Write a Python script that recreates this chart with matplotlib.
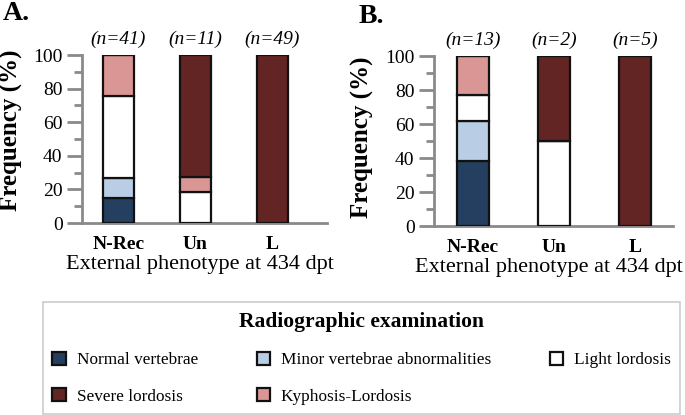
import numpy as np
import matplotlib
matplotlib.use("Agg")
from matplotlib import pyplot as plt
from matplotlib.patches import Patch

plt.rcParams['font.family'] = ['Liberation Serif', 'DejaVu Serif']

#!------------------------------------------------------------------------------
#!                                   DATA
#!------------------------------------------------------------------------------
phenotypes = ["N-Rec", "Un", "L"]
categories = ["Normal vertebrae", "Minor vertebrae abnormalities",
              "Light lordosis", "Kyphosis-Lordosis", "Severe lordosis"]
colors = ["#243F60", "#B9CDE5", "#FFFFFF", "#D99694", "#632523"]

# percentages, one list per category, ordered as phenotypes
panel_a = {
    "Normal vertebrae": [14.6, 0, 0],
    "Minor vertebrae abnormalities": [12.2, 0, 0],
    "Light lordosis": [48.8, 18.2, 0],
    "Kyphosis-Lordosis": [24.4, 9.1, 0],
    "Severe lordosis": [0, 72.7, 100],
}
panel_b = {
    "Normal vertebrae": [38.5, 0, 0],
    "Minor vertebrae abnormalities": [23.1, 0, 0],
    "Light lordosis": [15.4, 50, 0],
    "Kyphosis-Lordosis": [23.1, 0, 0],
    "Severe lordosis": [0, 50, 100],
}
n_a = [41, 11, 49]
n_b = [13, 2, 5]

W, H = 685, 415
GREY = "#8A8A8A"


def px_axes(fig, left, top, right, bottom):
    return fig.add_axes([left / W, 1 - bottom / H, (right - left) / W,
                         (bottom - top) / H])


def draw_panel(ax, data, counts, letter, xlim, ylab_xy, xlab_x, letter_xy):
    x = np.arange(len(phenotypes))
    base = np.zeros(len(phenotypes))
    for cat, col in zip(categories, colors):
        vals = np.array(data[cat], dtype=float)
        ax.bar(x, vals, 0.4, bottom=base, color=col, edgecolor="#111111",
               linewidth=1.6, zorder=3)
        base += vals
    ax.set_xlim(*xlim)
    ax.set_ylim(0, 100)
    ax.set_yticks(np.arange(0, 101, 20))
    ax.set_yticks(np.arange(10, 100, 20), minor=True)
    ax.tick_params(axis="y", which="major", direction="out", length=11,
                   width=2, color=GREY, labelsize=14, pad=3)
    ax.tick_params(axis="y", which="minor", direction="out", length=6,
                   width=2, color=GREY)
    ax.set_xticks(x)
    ax.set_xticklabels(phenotypes, fontsize=14, fontweight="bold")
    ax.tick_params(axis="x", length=0, pad=9)
    for s in ["top", "right"]:
        ax.spines[s].set_visible(False)
    for s in ["left", "bottom"]:
        ax.spines[s].set_color(GREY)
        ax.spines[s].set_linewidth(2)
    ax.set_ylabel("Frequency (%)", fontsize=18, fontweight="bold")
    ax.yaxis.set_label_coords(*ylab_xy)
    ax.set_xlabel("External phenotype at 434 dpt", fontsize=16)
    ax.xaxis.set_label_coords(xlab_x, -0.19)
    for xi, n in zip(x, counts):
        ax.text(xi, 104, "(n=%d)" % n, ha="center", va="bottom",
                fontsize=14, style="italic", clip_on=False)
    fig = ax.figure
    fig.text(letter_xy[0] / W, 1 - letter_xy[1] / H, letter, fontsize=20,
             fontweight="bold", ha="left", va="baseline")


#!------------------------------------------------------------------------------
#!                                   FIGURE
#!------------------------------------------------------------------------------
def main():
    fig = plt.figure(figsize=(W / 100, H / 100), dpi=100)

    ax_a = px_axes(fig, 82, 55, 327, 223)
    draw_panel(ax_a, panel_a, n_a, "A.", (-0.474, 2.708),
               (-0.24, 0.55), 0.48, (3, 20))

    ax_b = px_axes(fig, 434, 56, 673, 226)
    draw_panel(ax_b, panel_b, n_b, "B.", (-0.48, 2.47),
               (-0.25, 0.52), 0.48, (359, 23))

    handles = [Patch(facecolor=c, edgecolor="#111111", linewidth=1.6, label=l)
               for l, c in zip(categories, colors)]
    order = [0, 4, 1, 3, 2]
    leg = fig.legend([handles[i] for i in order],
                     [categories[i] for i in order],
                     loc="lower left", ncol=3, mode="expand",
                     bbox_to_anchor=(43 / W, 1 / H, 637 / W, 105 / H),
                     title="Radiographic examination", frameon=True,
                     fancybox=False, edgecolor="#BFBFBF", fontsize=12.4,
                     handlelength=0.8, handleheight=0.8, handletextpad=0.6,
                     labelspacing=1.15, borderaxespad=0, borderpad=0.55)
    leg.get_title().set_fontsize(15.5)
    leg.get_title().set_fontweight("bold")
    leg.get_frame().set_linewidth(1.2)

    fig.savefig("out.png", dpi=100)


if __name__ == '__main__':
    main()
